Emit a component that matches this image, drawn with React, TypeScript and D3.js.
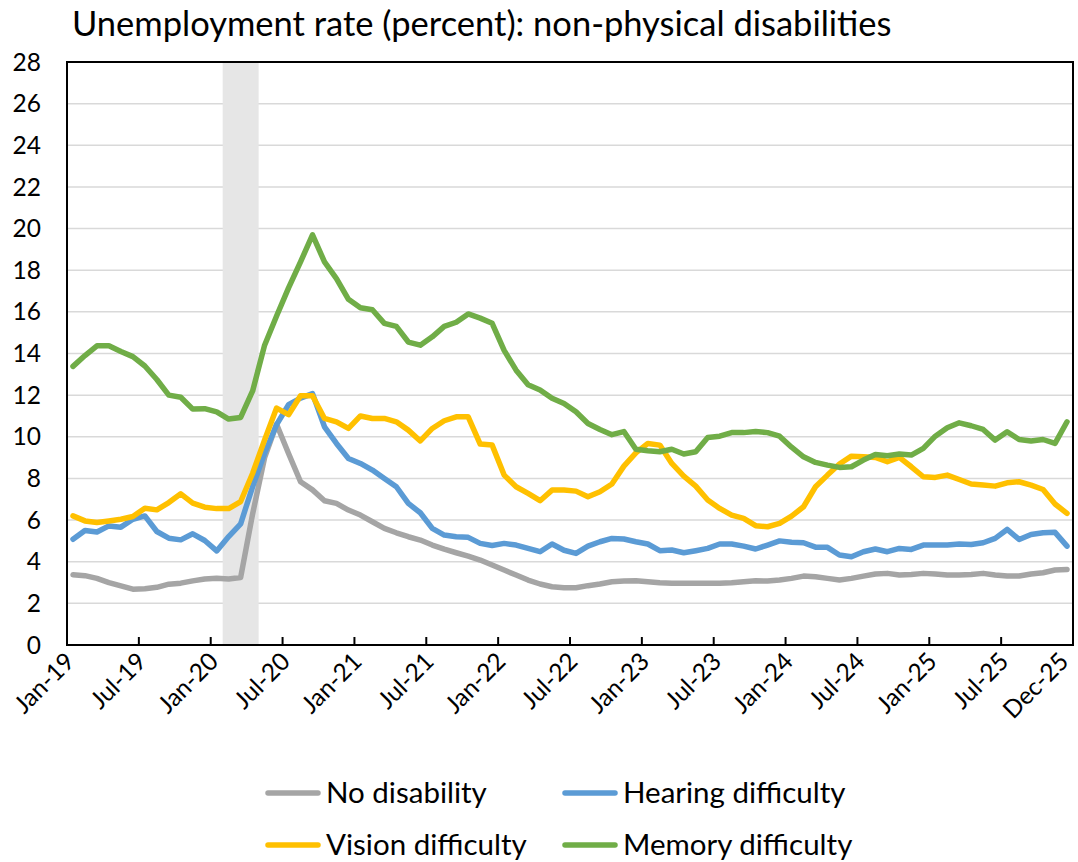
import { useEffect } from 'react';
import * as d3 from 'd3';

// monthly categories Jan-2019 .. Dec-2025
const months = d3.timeMonth.range(new Date(2019, 0, 1), new Date(2026, 0, 1));

const tickLabels = [
  'Jan-19', 'Jul-19', 'Jan-20', 'Jul-20', 'Jan-21', 'Jul-21', 'Jan-22', 'Jul-22',
  'Jan-23', 'Jul-23', 'Jan-24', 'Jul-24', 'Jan-25', 'Jul-25', 'Dec-25',
];
const tickIndex = [0, 6, 12, 18, 24, 30, 36, 42, 48, 54, 60, 66, 72, 78, 83];

const yTicks = [0, 2, 4, 6, 8, 10, 12, 14, 16, 18, 20, 22, 24, 26, 28];

// recession shading: Feb-20 .. Apr-20
const recessionStart = 13;
const recessionEnd = 15;

const noDisability = [
  3.37, 3.33, 3.2, 3.0, 2.84, 2.68, 2.7, 2.77, 2.92, 2.97, 3.08, 3.17,
  3.2, 3.17, 3.24, 6.3, 9.0, 10.6, 9.2, 7.84, 7.45, 6.93, 6.8, 6.48,
  6.24, 5.92, 5.6, 5.39, 5.2, 5.04, 4.8, 4.6, 4.43, 4.27, 4.08, 3.84,
  3.6, 3.36, 3.12, 2.93, 2.8, 2.75, 2.75, 2.85, 2.93, 3.04, 3.07, 3.09,
  3.04, 2.99, 2.96, 2.96, 2.96, 2.96, 2.96, 2.99, 3.04, 3.09, 3.07, 3.12,
  3.2, 3.31, 3.28, 3.2, 3.12, 3.2, 3.31, 3.41, 3.44, 3.36, 3.39, 3.44,
  3.41, 3.36, 3.36, 3.39, 3.44, 3.36, 3.31, 3.31, 3.41, 3.47, 3.6, 3.63,
];

const hearing = [
  5.08, 5.5, 5.43, 5.72, 5.66, 6.04, 6.2, 5.45, 5.13, 5.05, 5.34, 5.02,
  4.52, 5.21, 5.82, 7.61, 9.21, 10.58, 11.54, 11.86, 12.07, 10.48, 9.68, 8.96,
  8.72, 8.4, 8.0, 7.6, 6.8, 6.35, 5.6, 5.28, 5.2, 5.17, 4.88, 4.78,
  4.88, 4.8, 4.64, 4.48, 4.85, 4.55, 4.4, 4.75, 4.96, 5.12, 5.09, 4.96,
  4.85, 4.53, 4.56, 4.43, 4.53, 4.64, 4.85, 4.85, 4.75, 4.61, 4.8, 5.0,
  4.93, 4.91, 4.7, 4.69, 4.32, 4.24, 4.48, 4.61, 4.48, 4.64, 4.59, 4.8,
  4.8, 4.8, 4.85, 4.83, 4.91, 5.12, 5.55, 5.07, 5.31, 5.39, 5.41, 4.75,
];

const vision = [
  6.2, 5.96, 5.88, 5.96, 6.04, 6.17, 6.57, 6.49, 6.84, 7.26, 6.81, 6.62,
  6.55, 6.55, 6.89, 8.25, 9.85, 11.38, 11.06, 11.97, 11.97, 10.88, 10.72, 10.4,
  11.0, 10.88, 10.88, 10.72, 10.32, 9.8, 10.4, 10.77, 10.96, 10.96, 9.65, 9.6,
  8.16, 7.6, 7.28, 6.93, 7.44, 7.44, 7.39, 7.12, 7.36, 7.73, 8.59, 9.23,
  9.68, 9.6, 8.72, 8.11, 7.63, 6.96, 6.56, 6.24, 6.08, 5.73, 5.68, 5.84,
  6.19, 6.64, 7.6, 8.16, 8.69, 9.07, 9.04, 9.01, 8.8, 9.01, 8.56, 8.08,
  8.05, 8.16, 7.95, 7.73, 7.68, 7.63, 7.79, 7.84, 7.68, 7.47, 6.77, 6.32,
];

const memory = [
  13.38, 13.9, 14.37, 14.37, 14.1, 13.85, 13.4, 12.75, 12.0, 11.9, 11.33, 11.35,
  11.2, 10.85, 10.93, 12.2, 14.4, 15.8, 17.15, 18.4, 19.7, 18.4, 17.6, 16.6,
  16.2, 16.1, 15.45, 15.3, 14.55, 14.4, 14.8, 15.3, 15.5, 15.9, 15.7, 15.45,
  14.15, 13.2, 12.5, 12.25, 11.85, 11.6, 11.2, 10.64, 10.35, 10.1, 10.25, 9.4,
  9.33, 9.28, 9.4, 9.17, 9.28, 9.97, 10.03, 10.2, 10.2, 10.25, 10.2, 10.03,
  9.5, 9.04, 8.77, 8.64, 8.53, 8.56, 8.88, 9.15, 9.09, 9.17, 9.12, 9.44,
  10.03, 10.43, 10.67, 10.53, 10.35, 9.84, 10.24, 9.87, 9.8, 9.87, 9.68, 10.72,
];

const seriesNames = ['No disability', 'Hearing difficulty', 'Vision difficulty', 'Memory difficulty'];
const seriesColors = ['#A5A5A5', '#5B9BD5', '#FFC000', '#70AD47'];
const seriesValues = [noDisability, hearing, vision, memory];

const W = 1078;
const H = 862;
const margin = { top: 62, right: 5, bottom: 217, left: 67 };
const FONT = 'Lato, "Open Sans", sans-serif';

export default function App() {
  useEffect(() => {
    document.body.style.margin = '0';
  }, []);

  const x = d3
    .scaleBand<number>()
    .domain(months.map((_, i) => i))
    .range([margin.left, W - margin.right])
    .paddingInner(0)
    .paddingOuter(0);
  const bw = x.bandwidth();
  const cx = (i: number) => (x(i) ?? 0) + bw / 2;

  const y = d3.scaleLinear().domain([0, 28]).range([H - margin.bottom, margin.top]);

  const line = d3
    .line<number>()
    .x((_, i) => cx(i))
    .y((d) => y(d));

  const x0 = margin.left;
  const x1 = W - margin.right;
  const yBottom = y(0);
  const yTop = y(28);

  const legendRows = [
    { y: 793, items: [0, 1] },
    { y: 845, items: [2, 3] },
  ];
  const legendX = [268, 565];

  return (
    <svg width={W} height={H} style={{ display: 'block', background: '#fff' }} fontFamily={FONT}>
      <text x={72} y={36} fontSize={34.5} fill="#000">
        Unemployment rate (percent): non-physical disabilities
      </text>

      {/* gridlines */}
      {yTicks.slice(1, -1).map((t) => (
        <line key={t} x1={x0} x2={x1} y1={y(t)} y2={y(t)} stroke="#D9D9D9" strokeWidth={1.5} />
      ))}

      {/* recession band */}
      <rect
        x={x(recessionStart) ?? 0}
        y={yTop}
        width={(x(recessionEnd) ?? 0) + bw - (x(recessionStart) ?? 0)}
        height={yBottom - yTop}
        fill="#E6E6E6"
      />

      {/* series */}
      {seriesValues.map((vals, k) => (
        <path
          key={seriesNames[k]}
          d={line(vals) ?? ''}
          fill="none"
          stroke={seriesColors[k]}
          strokeWidth={5.5}
          strokeLinejoin="round"
          strokeLinecap="round"
        />
      ))}

      {/* plot border */}
      <rect x={x0} y={yTop} width={x1 - x0} height={yBottom - yTop} fill="none" stroke="#000" strokeWidth={2} />

      {/* x tick marks (inside, pointing up) */}
      {d3.range(6, months.length, 6).map((i) => (
        <line key={i} x1={x(i) ?? 0} x2={x(i) ?? 0} y1={yBottom} y2={yBottom - 8} stroke="#000" strokeWidth={2} />
      ))}

      {/* y labels */}
      {yTicks.map((t) => (
        <text key={t} x={41} y={y(t)} dy="0.35em" textAnchor="end" fontSize={24.5} fill="#000">
          {t}
        </text>
      ))}

      {/* x labels */}
      {tickLabels.map((lab, j) => {
        const px = cx(tickIndex[j]) + 3;
        const py = yBottom + 18;
        return (
          <text
            key={lab}
            x={px}
            y={py}
            textAnchor="end"
            fontSize={24.5}
            fill="#000"
            transform={`rotate(-45 ${px} ${py})`}
          >
            {lab}
          </text>
        );
      })}

      {/* legend */}
      {legendRows.map((row) =>
        row.items.map((k, c) => (
          <g key={seriesNames[k]}>
            <line
              x1={legendX[c]}
              x2={legendX[c] + 50}
              y1={row.y}
              y2={row.y}
              stroke={seriesColors[k]}
              strokeWidth={5.5}
              strokeLinecap="round"
            />
            <text x={legendX[c] + 58} y={row.y} dy="0.35em" fontSize={29.5} fill="#000">
              {seriesNames[k]}
            </text>
          </g>
        )),
      )}
    </svg>
  );
}
